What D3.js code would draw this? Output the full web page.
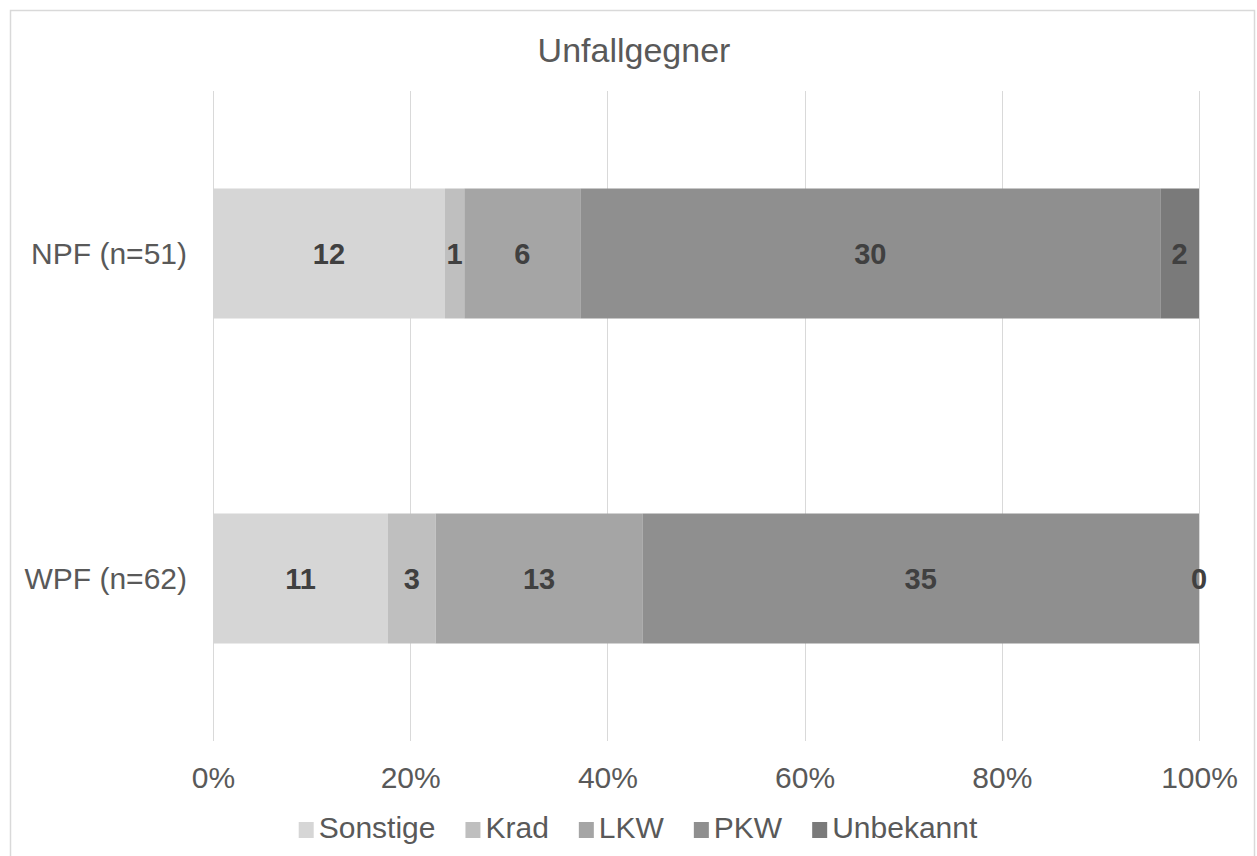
<!DOCTYPE html>
<html><head><meta charset="utf-8">
<script src="https://cdn.jsdelivr.net/npm/d3@7"></script>
<style>body{margin:0;background:#fff}svg{display:block}text{font-family:"Liberation Sans",Arial,sans-serif}</style>
</head><body>
<svg id="c" width="1257" height="856"></svg>
<script>
const title = "Unfallgegner";
const categories = ["NPF (n=51)", "WPF (n=62)"];
const seriesNames = ["Sonstige", "Krad", "LKW", "PKW", "Unbekannt"];
const sonstige = [12, 11];
const krad = [1, 3];
const lkw = [6, 13];
const pkw = [30, 35];
const unbekannt = [2, 0];
const seriesColors = ["#d6d6d6", "#bfbfbf", "#a5a5a5", "#8f8f8f", "#7a7a7a"];
const tickValues = [0, 0.2, 0.4, 0.6, 0.8, 1.0];

const seriesValues = [sonstige, krad, lkw, pkw, unbekannt];
const rows = categories.map((c, i) => {
  const r = {cat: c};
  seriesNames.forEach((s, j) => r[s] = seriesValues[j][i]);
  r.total = d3.sum(seriesValues, v => v[i]);
  return r;
});

const svg = d3.select("#c");
const textCol = "#595959";

svg.append("rect").attr("x", 10.5).attr("y", 10.5).attr("width", 1244).attr("height", 850)
  .attr("fill", "#fff").attr("stroke", "#d9d9d9").attr("stroke-width", 1.5);

const x = d3.scaleLinear().domain([0, 1]).range([213, 1199]);
const y = d3.scaleBand().domain(categories).range([91, 741]).paddingInner(0.6).paddingOuter(0.3);

// gridlines
svg.append("g").selectAll("line").data(tickValues).join("line")
  .attr("x1", d => Math.round(x(d)) + 0.5).attr("x2", d => Math.round(x(d)) + 0.5)
  .attr("y1", 91).attr("y2", 741).attr("stroke", "#d9d9d9").attr("stroke-width", 1);

// x axis labels
const xAxis = d3.axisBottom(x).tickValues(tickValues).tickFormat(d3.format(".0%")).tickSize(0).tickPadding(0);
const gx = svg.append("g").attr("transform", "translate(0,741)").call(xAxis);
gx.select(".domain").remove();
gx.selectAll("text").attr("font-size", 30).attr("fill", textCol).attr("dy", null).attr("y", 47)
  .attr("font-family", '"Liberation Sans",Arial,sans-serif');

// y axis labels
const yAxis = d3.axisLeft(y).tickSize(0).tickPadding(0);
const gy = svg.append("g").attr("transform", "translate(187,0)").call(yAxis);
gy.select(".domain").remove();
gy.selectAll("text").attr("font-size", 30).attr("fill", textCol).attr("dy", "0.35em")
  .attr("font-family", '"Liberation Sans",Arial,sans-serif');

// stacked bars
const stack = d3.stack().keys(seriesNames).offset(d3.stackOffsetExpand);
const stacked = stack(rows);
const gBars = svg.append("g");
stacked.forEach((layer, j) => {
  const g = gBars.append("g").attr("fill", seriesColors[j]);
  g.selectAll("rect").data(layer).join("rect")
    .attr("x", d => x(d[0])).attr("width", d => x(d[1]) - x(d[0]))
    .attr("y", d => y(d.data.cat)).attr("height", y.bandwidth());
});
stacked.forEach((layer, j) => {
  svg.append("g").selectAll("text").data(layer).join("text")
    .attr("x", d => (x(d[0]) + x(d[1])) / 2)
    .attr("y", d => y(d.data.cat) + y.bandwidth() / 2)
    .attr("dy", "0.36em").attr("text-anchor", "middle")
    .attr("font-size", 29).attr("font-weight", "bold").attr("fill", "#404040")
    .text(d => d.data[layer.key]);
});

// title
svg.append("text").attr("x", 634).attr("y", 62).attr("text-anchor", "middle")
  .attr("font-size", 34).attr("fill", textCol).text(title);

// legend
const leg = svg.append("g");
let cx = 0;
const items = [];
seriesNames.forEach((s, j) => {
  const g = leg.append("g").attr("transform", `translate(${cx},0)`);
  g.append("rect").attr("x", 0).attr("y", -16).attr("width", 15).attr("height", 16).attr("fill", seriesColors[j]);
  const t = g.append("text").attr("x", 20).attr("y", 0).attr("font-size", 30).attr("fill", textCol).text(s);
  const w = t.node().getComputedTextLength();
  cx += 20 + w + 30;
});
const totalW = cx - 30;
leg.attr("transform", `translate(${638 - totalW / 2},838)`);
</script>
</body></html>
